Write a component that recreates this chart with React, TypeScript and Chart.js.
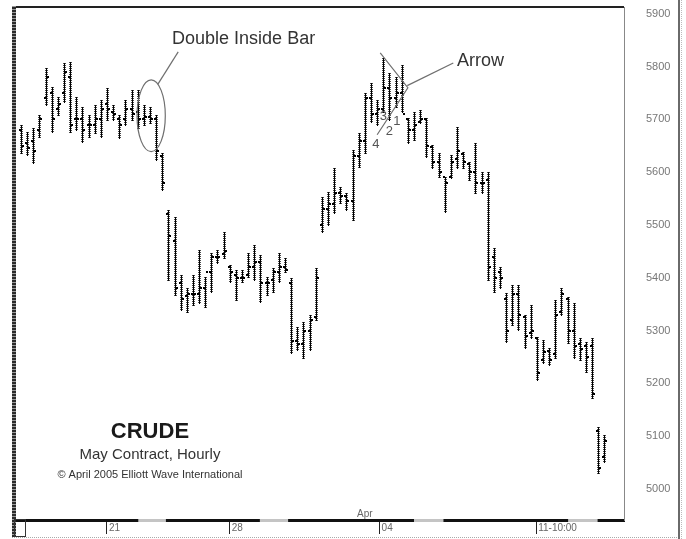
import React, { useEffect, useRef } from "react";
import { Chart, registerables } from "chart.js";
Chart.register(...registerables);

// Hourly OHLC bars (index 0..95), prices shown as 5000..5900
const highs = [
  5690, 5676, 5684, 5709, 5798, 5762, 5743, 5807, 5809, 5743, 5724, 5709, 5728, 5737, 5760, 5728, 5709, 5737, 5756, 5756, 5728, 5724, 5709, 5637,
  5529, 5515, 5405, 5381, 5405, 5453, 5402, 5447, 5453, 5487, 5424, 5415, 5415, 5447, 5462, 5443, 5402, 5419, 5447, 5438, 5400, 5307, 5316, 5330, 5419,
  5553, 5563, 5608, 5572, 5561, 5642, 5675, 5750, 5769, 5737, 5817, 5788, 5781, 5803, 5703, 5714, 5718, 5703, 5652, 5637, 5591, 5633, 5686, 5638, 5620, 5656, 5601, 5601,
  5457, 5421, 5371, 5386, 5386, 5330, 5349, 5288, 5282, 5267, 5358, 5381, 5364, 5352, 5286, 5278, 5286, 5117, 5102,
];
const lows = [
  5637, 5633, 5618, 5667, 5728, 5676, 5709, 5733, 5676, 5680, 5657, 5667, 5675, 5667, 5699, 5699, 5665, 5690, 5699, 5684, 5690, 5693, 5623, 5566,
  5396, 5367, 5339, 5335, 5349, 5352, 5345, 5373, 5428, 5438, 5392, 5358, 5392, 5402, 5396, 5354, 5367, 5373, 5392, 5411, 5258, 5263, 5248, 5263, 5320,
  5487, 5500, 5523, 5542, 5529, 5510, 5610, 5637, 5695, 5690, 5714, 5699, 5724, 5714, 5656, 5661, 5693, 5629, 5608, 5591, 5525, 5589, 5608, 5608, 5585, 5561, 5561, 5396,
  5373, 5381, 5278, 5311, 5301, 5267, 5286, 5206, 5239, 5235, 5248, 5330, 5277, 5248, 5244, 5222, 5172, 5030, 5051,
];
const opens = [
  5680, 5655, 5660, 5680, 5740, 5750, 5720, 5750, 5780, 5700, 5700, 5690, 5690, 5700, 5730, 5715, 5700, 5700, 5720, 5715, 5700, 5705, 5700, 5630,
  5520, 5470, 5390, 5365, 5370, 5370, 5380, 5410, 5440, 5445, 5420, 5405, 5400, 5405, 5420, 5430, 5390, 5395, 5410, 5420, 5390, 5280, 5275, 5300, 5325,
  5500, 5530, 5540, 5560, 5555, 5545, 5630, 5660, 5740, 5710, 5720, 5760, 5740, 5750, 5700, 5680, 5695, 5700, 5648, 5620, 5590, 5590, 5625, 5635, 5615, 5600, 5580, 5585,
  5440, 5410, 5360, 5320, 5370, 5325, 5295, 5285, 5245, 5262, 5255, 5335, 5360, 5300, 5275, 5270, 5270, 5110, 5060,
];
const closes = [
  5650, 5645, 5640, 5700, 5780, 5700, 5730, 5790, 5690, 5700, 5680, 5690, 5700, 5720, 5720, 5710, 5690, 5720, 5710, 5700, 5705, 5700, 5640, 5580,
  5480, 5380, 5360, 5370, 5370, 5380, 5410, 5440, 5440, 5450, 5410, 5400, 5400, 5420, 5430, 5390, 5390, 5410, 5420, 5415, 5280, 5275, 5300, 5320, 5400,
  5530, 5540, 5560, 5555, 5545, 5630, 5660, 5740, 5710, 5720, 5760, 5740, 5750, 5710, 5680, 5690, 5700, 5650, 5620, 5600, 5580, 5620, 5640, 5620, 5600, 5580, 5580, 5420,
  5400, 5400, 5300, 5370, 5330, 5290, 5300, 5220, 5260, 5245, 5330, 5370, 5300, 5270, 5265, 5250, 5180, 5040, 5090,
];

const yTicks = [5000, 5100, 5200, 5300, 5400, 5500, 5600, 5700, 5800, 5900];
const dayTicks = [14.0, 34.0, 58.4, 83.9];
const dayLabels = ["21", "28", "04", "11-10:00"];
const monthLabel = { text: "Apr", x: 56, y: 4951 };
const axisGaps = [
  [19.1, 23.6],
  [38.9, 43.5],
  [64.0, 68.8],
  [89.1, 93.9],
];

// annotations in data space (bar index, price)
const insideEllipse = { cx: 21.2, cy: 5707, rx: 2.3, ry: 68 };
const insideLeader = [
  [22.3, 5767],
  [25.6, 5828],
];
const insideText = { text: "Double Inside Bar", x: 24.6, y: 5853 };
const arrowText = { text: "Arrow", x: 71.0, y: 5811 };
const arrowLeader = [
  [62.9, 5764],
  [70.4, 5807],
];
const wedge = [
  [58.5, 5826],
  [63.0, 5760],
  [58.0, 5671],
];
const waveLabels = [
  { t: "3", x: 59.0, y: 5705 },
  { t: "1", x: 61.2, y: 5697 },
  { t: "2", x: 60.0, y: 5678 },
  { t: "4", x: 57.8, y: 5652 },
];
const titleLines = [
  { t: "CRUDE", x: 21.0, y: 5108, font: "bold 22px 'Liberation Sans', Arial, sans-serif", color: "#1a1a1a" },
  { t: "May Contract, Hourly", x: 21.0, y: 5064, font: "15px 'Liberation Sans', Arial, sans-serif", color: "#333" },
  { t: "\u00A9 April 2005 Elliott Wave International", x: 21.0, y: 5026, font: "11px 'Liberation Sans', Arial, sans-serif", color: "#333" },
];

const FONT = "'Liberation Sans', Arial, sans-serif";

const decor = {
  id: "decor",
  afterDatasetsDraw(chart: any) {
    const { ctx, scales } = chart;
    const x = scales.x;
    const y = scales.y;
    ctx.save();
    for (let i = 0; i < highs.length; i++) {
      const px = Math.round(x.getPixelForValue(i));
      const yh = Math.round(y.getPixelForValue(highs[i]));
      const yl = Math.round(y.getPixelForValue(lows[i]));
      ctx.fillStyle = "#000";
      ctx.fillRect(px, yh, 1, yl - yh + 1);
      ctx.fillStyle = "rgba(0,0,0,0.7)";
      for (let yy = yh; yy <= yl; yy += 2) ctx.fillRect(px - 1, yy, 3, 1);
      ctx.fillStyle = "#000";
      ctx.fillRect(px - 2, Math.round(y.getPixelForValue(opens[i])) - 1, 2, 2);
      ctx.fillRect(px + 1, Math.round(y.getPixelForValue(closes[i])) - 1, 2, 2);
    }
    ctx.restore();
  },
  afterDraw(chart: any) {
    const { ctx, chartArea, scales } = chart;
    const x = scales.x;
    const y = scales.y;
    const W = chart.width;
    const H = chart.height;
    ctx.save();

    // axis gap segments
    ctx.fillStyle = "#c4c4c4";
    for (const [a, b] of axisGaps) {
      const xa = x.getPixelForValue(a);
      const xb = x.getPixelForValue(b);
      ctx.fillRect(xa, chartArea.bottom - 1, xb - xa, 3);
    }

    // top frame line
    ctx.fillStyle = "#222";
    ctx.fillRect(12, chartArea.top - 1, chartArea.right - 12, 2);
    // left hatched frame
    ctx.fillStyle = "#9a9a9a";
    ctx.fillRect(12, chartArea.top - 1, 4, H - chartArea.top - 1);
    ctx.fillStyle = "#2a2a2a";
    for (let yy = chartArea.top; yy < H - 2; yy += 3) ctx.fillRect(12, yy, 4, 2);
    // right outer frame
    ctx.fillStyle = "#6a6a6a";
    ctx.fillRect(W - 8, 0, 2, H);
    ctx.fillStyle = "#bbb";
    for (let yy = 0; yy < H; yy += 2) ctx.fillRect(W - 5, yy, 1, 1);
    // bottom dotted line
    ctx.fillStyle = "#aaa";
    for (let xx = 12; xx < W - 8; xx += 2) ctx.fillRect(xx, H - 2, 1, 1);
    // small corner box
    ctx.strokeStyle = "#333";
    ctx.lineWidth = 1;
    ctx.strokeRect(14.5, chartArea.bottom - 0.5, 11, H - chartArea.bottom - 2);

    // month label
    ctx.fillStyle = "#666";
    ctx.font = `10px ${FONT}`;
    ctx.textAlign = "center";
    ctx.textBaseline = "middle";
    ctx.fillText(monthLabel.text, x.getPixelForValue(monthLabel.x), y.getPixelForValue(monthLabel.y));

    // annotations
    ctx.strokeStyle = "#6f6f6f";
    ctx.lineWidth = 1.2;
    const ecx = x.getPixelForValue(insideEllipse.cx);
    const ecy = y.getPixelForValue(insideEllipse.cy);
    const erx = Math.abs(x.getPixelForValue(insideEllipse.cx + insideEllipse.rx) - ecx);
    const ery = Math.abs(y.getPixelForValue(insideEllipse.cy + insideEllipse.ry) - ecy);
    ctx.beginPath();
    ctx.ellipse(ecx, ecy, erx, ery, 0, 0, Math.PI * 2);
    ctx.stroke();

    const poly = (pts: number[][]) => {
      ctx.beginPath();
      pts.forEach(([a, b], k) => {
        const px = x.getPixelForValue(a);
        const py = y.getPixelForValue(b);
        if (k === 0) ctx.moveTo(px, py);
        else ctx.lineTo(px, py);
      });
      ctx.stroke();
    };
    poly(insideLeader);
    poly(arrowLeader);
    poly(wedge);

    ctx.fillStyle = "#333";
    ctx.font = `18px ${FONT}`;
    ctx.textAlign = "left";
    ctx.textBaseline = "middle";
    ctx.fillText(insideText.text, x.getPixelForValue(insideText.x), y.getPixelForValue(insideText.y));
    ctx.fillText(arrowText.text, x.getPixelForValue(arrowText.x), y.getPixelForValue(arrowText.y));

    ctx.fillStyle = "#555";
    ctx.font = `13px ${FONT}`;
    ctx.textAlign = "center";
    for (const w of waveLabels) ctx.fillText(w.t, x.getPixelForValue(w.x), y.getPixelForValue(w.y));

    for (const l of titleLines) {
      ctx.fillStyle = l.color;
      ctx.font = l.font;
      ctx.fillText(l.t, x.getPixelForValue(l.x), y.getPixelForValue(l.y));
    }
    ctx.restore();
  },
};

export default function App() {
  const ref = useRef<HTMLCanvasElement | null>(null);
  useEffect(() => {
    if (!ref.current) return;
    const chart = new Chart(ref.current, {
      type: "bar",
      data: {
        datasets: [
          {
            data: highs.map((h, i) => ({ x: i, y: [lows[i], h] })) as any,
            backgroundColor: "rgba(0,0,0,0)",
            borderWidth: 0,
            barThickness: 1,
            grouped: false,
          } as any,
        ],
      },
      options: {
        animation: false,
        responsive: false,
        events: [],
        layout: { padding: { left: 17, top: 7, right: 0, bottom: 0 } },
        plugins: { legend: { display: false }, tooltip: { enabled: false } },
        scales: {
          x: {
            type: "linear",
            min: -0.65,
            max: 98.2,
            offset: false,
            afterBuildTicks: (s: any) => {
              s.ticks = dayTicks.map((v) => ({ value: v }));
            },
            afterFit: (s: any) => {
              s.height = 19;
              s.paddingLeft = 0;
              s.paddingRight = 0;
            },
            grid: { offset: false, drawOnChartArea: false, drawTicks: true, tickLength: 14, tickColor: "#222", tickWidth: 1 },
            border: { display: true, color: "#111", width: 3 },
            ticks: {
              align: "start",
              padding: -12,
              color: "#666",
              autoSkip: false,
              maxRotation: 0,
              font: { family: FONT, size: 10 },
              callback: (_v: any, i: number) => "\u2009" + dayLabels[i],
            },
          },
          y: {
            type: "linear",
            position: "right",
            min: 4941,
            max: 5913,
            afterBuildTicks: (s: any) => {
              s.ticks = yTicks.map((v) => ({ value: v }));
            },
            afterFit: (s: any) => {
              s.width = 62;
              s.paddingTop = 0;
              s.paddingBottom = 0;
            },
            grid: { display: true, drawOnChartArea: false, drawTicks: false },
            border: { display: true, color: "#888", width: 1, dash: [1, 1] },
            ticks: {
              padding: 22,
              color: "#777",
              font: { family: FONT, size: 11 },
              callback: (v: any) => String(v),
            },
          },
        },
      } as any,
      plugins: [decor],
    });
    return () => chart.destroy();
  }, []);
  return (
    <div style={{ position: "fixed", left: 0, top: 0, width: 686, height: 539, background: "#fff" }}>
      <canvas ref={ref} width={686} height={539} style={{ display: "block" }} />
    </div>
  );
}
